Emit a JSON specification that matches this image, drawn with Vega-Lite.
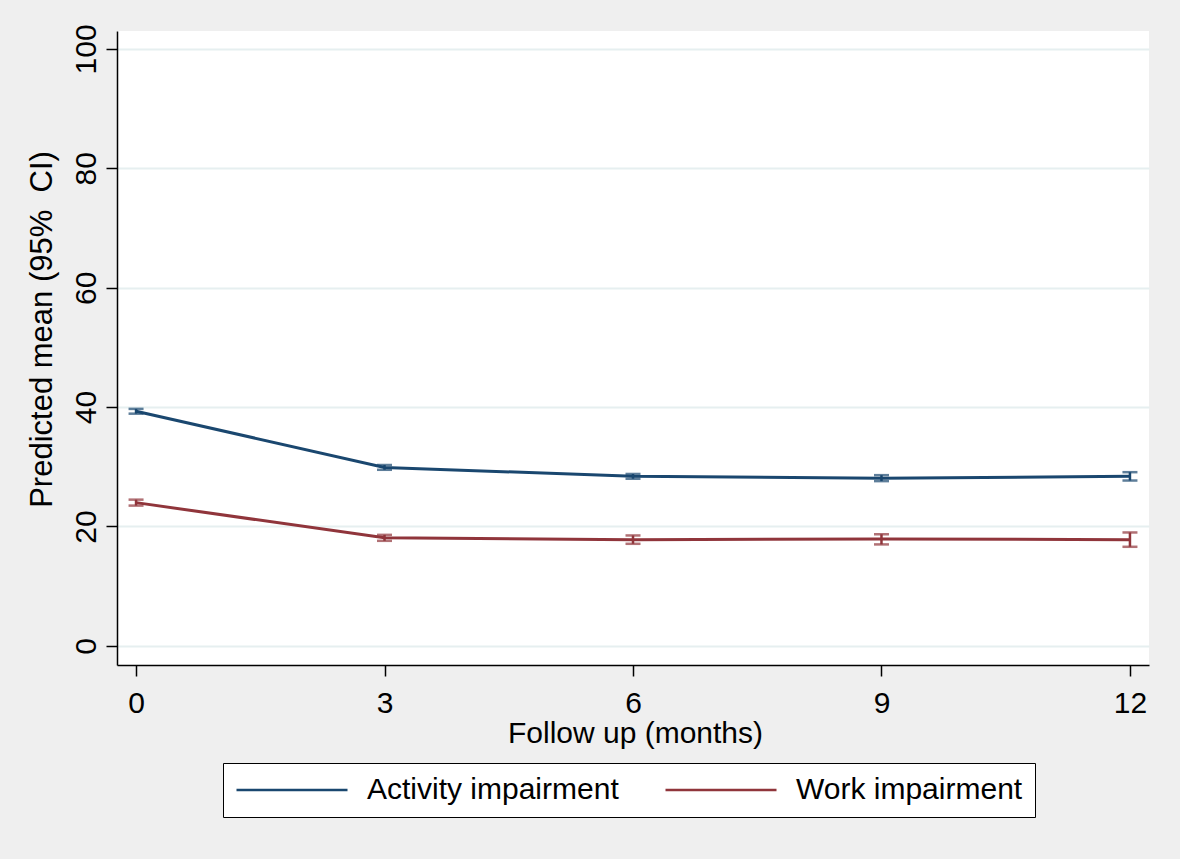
{
  "$schema": "https://vega.github.io/schema/vega-lite/v6.json",
  "width": 1032,
  "height": 634,
  "autosize": {"type": "none"},
  "padding": {"left": 117, "top": 31, "right": 31, "bottom": 194},
  "background": "#EFEFEF",
  "config": {
    "font": "Liberation Sans",
    "view": {"fill": "white", "stroke": null},
    "axis": {
      "labelFont": "Liberation Sans",
      "titleFont": "Liberation Sans",
      "labelFontSize": 30,
      "titleFontSize": 30,
      "labelColor": "black",
      "titleColor": "black",
      "titleFontWeight": "normal",
      "domainColor": "black",
      "domainWidth": 1.5,
      "tickColor": "black",
      "tickWidth": 1.5,
      "tickSize": 11,
      "labelFlush": false,
      "labelOverlap": false
    },
    "legend": {
      "labelFont": "Liberation Sans",
      "labelFontSize": 30,
      "labelColor": "black"
    }
  },
  "data": {
    "values": [
      {"month": 0, "series": "Activity impairment", "mean": 39.3, "lo": 38.9, "hi": 39.7},
      {"month": 3, "series": "Activity impairment", "mean": 29.9, "lo": 29.5, "hi": 30.3},
      {"month": 6, "series": "Activity impairment", "mean": 28.4, "lo": 28.0, "hi": 28.8},
      {"month": 9, "series": "Activity impairment", "mean": 28.1, "lo": 27.6, "hi": 28.6},
      {"month": 12, "series": "Activity impairment", "mean": 28.4, "lo": 27.7, "hi": 29.1},
      {"month": 0, "series": "Work impairment", "mean": 24.0, "lo": 23.5, "hi": 24.5},
      {"month": 3, "series": "Work impairment", "mean": 18.1, "lo": 17.6, "hi": 18.6},
      {"month": 6, "series": "Work impairment", "mean": 17.8, "lo": 17.1, "hi": 18.5},
      {"month": 9, "series": "Work impairment", "mean": 17.9, "lo": 17.0, "hi": 18.7},
      {"month": 12, "series": "Work impairment", "mean": 17.8, "lo": 16.6, "hi": 19.0}
    ]
  },
  "encoding": {
    "x": {
      "field": "month",
      "type": "quantitative",
      "scale": {"domain": [-0.23, 12.23], "nice": false, "zero": false},
      "axis": {
        "values": [0, 3, 6, 9, 12],
        "format": "d",
        "grid": false,
        "labelAngle": 0,
        "labelAlign": "center",
        "labelBaseline": "alphabetic",
        "labelPadding": 36,
        "title": "Follow up (months)",
        "titleAlign": "center",
        "titleBaseline": "alphabetic",
        "titleX": 518,
        "titleY": 77
      }
    },
    "color": {
      "field": "series",
      "type": "nominal",
      "scale": {"domain": ["Activity impairment", "Work impairment"], "range": ["#1A476F", "#90353B"]},
      "legend": {
        "title": null,
        "orient": "none",
        "direction": "horizontal",
        "legendX": 106,
        "legendY": 732,
        "fillColor": "white",
        "strokeColor": "black",
        "padding": 12,
        "symbolType": "stroke",
        "symbolSize": 12321,
        "symbolStrokeWidth": 2.5,
        "symbolOpacity": 1,
        "clipHeight": 30,
        "labelOffset": 18,
        "columnPadding": 45,
        "labelLimit": 400
      }
    }
  },
  "layer": [
    {
      "mark": {"type": "line", "strokeWidth": 3},
      "encoding": {
        "y": {
          "field": "mean",
          "type": "quantitative",
          "scale": {"domain": [-3.2, 103], "nice": false, "zero": false},
          "axis": {
            "values": [0, 20, 40, 60, 80, 100],
            "grid": true,
            "gridColor": "#E6EFF0",
            "gridWidth": 2,
            "labelAngle": 270,
            "labelAlign": "center",
            "labelBaseline": "alphabetic",
            "labelPadding": 11,
            "title": "Predicted mean (95%\u00a0 CI)",
            "titleFontSize": 31,
            "titleAngle": 270,
            "titleAlign": "center",
            "titleBaseline": "alphabetic",
            "titleX": -66,
            "titleY": 298
          }
        }
      }
    },
    {
      "mark": {"type": "rule", "strokeWidth": 2.5},
      "encoding": {
        "y": {"field": "lo", "type": "quantitative"},
        "y2": {"field": "hi"}
      }
    },
    {
      "mark": {"type": "tick", "orient": "horizontal", "size": 15, "thickness": 2.5},
      "encoding": {
        "y": {"field": "lo", "type": "quantitative"}
      }
    },
    {
      "mark": {"type": "tick", "orient": "horizontal", "size": 15, "thickness": 2.5},
      "encoding": {
        "y": {"field": "hi", "type": "quantitative"}
      }
    }
  ]
}
